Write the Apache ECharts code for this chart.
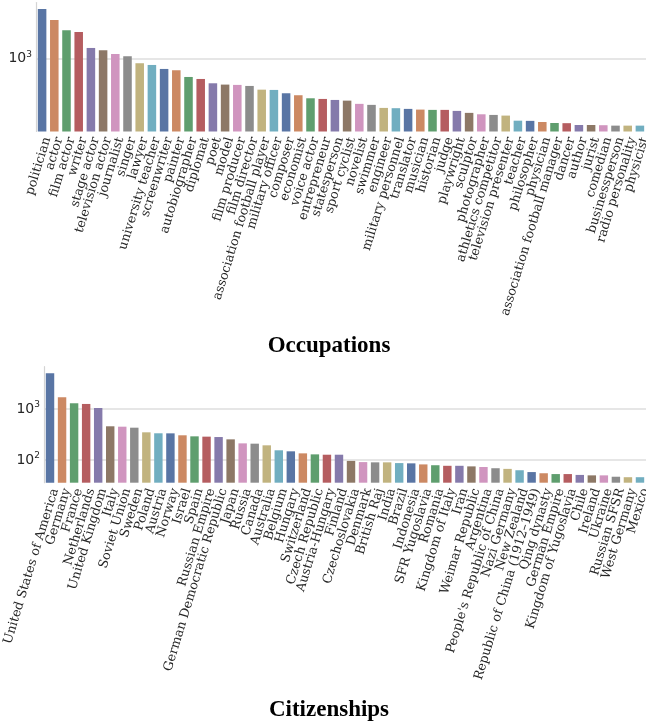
<!DOCTYPE html>
<html>
<head>
<meta charset="utf-8">
<script src="https://cdn.jsdelivr.net/npm/echarts@6/dist/echarts.min.js"></script>
<style>
  html, body { margin: 0; padding: 0; background: #fff; }
  #chart { width: 646px; height: 725px; }
</style>
</head>
<body>
<div id="chart"></div>
<script>
var occupations = ['politician', 'actor', 'film actor', 'writer', 'stage actor', 'television actor',
  'journalist', 'singer', 'lawyer', 'university teacher', 'screenwriter', 'painter', 'autobiographer',
  'diplomat', 'poet', 'model', 'film producer', 'film director', 'association football player',
  'military officer', 'composer', 'economist', 'voice actor', 'entrepreneur', 'statesperson',
  'sport cyclist', 'novelist', 'swimmer', 'engineer', 'military personnel', 'translator', 'musician',
  'historian', 'judge', 'playwright', 'sculptor', 'photographer', 'athletics competitor',
  'television presenter', 'teacher', 'philosopher', 'physician', 'association football manager',
  'dancer', 'author', 'jurist', 'comedian', 'businessperson', 'radio personality', 'physicist'];
var occupationCounts = [3281, 2518, 1964, 1885, 1282, 1213, 1109, 1050, 887, 851,
  773, 749, 637, 607, 547, 530, 526, 513, 469, 466,
  430, 410, 381, 375, 366, 360, 333, 325, 302, 300,
  295, 290, 288, 288, 281, 268, 259, 255, 251, 222,
  221, 215, 210, 209, 200, 200, 199, 197, 197, 197];

var citizenships = ['United States of America', 'Germany', 'France', 'Netherlands', 'United Kingdom',
  'Italy', 'Soviet Union', 'Sweden', 'Poland', 'Austria', 'Norway', 'Israel', 'Spain', 'Russian Empire',
  'German Democratic Republic', 'Japan', 'Russia', 'Canada', 'Australia', 'Belgium', 'Hungary',
  'Switzerland', 'Czech Republic', 'Austria-Hungary', 'Finland', 'Czechoslovakia', 'Denmark',
  'British Raj', 'India', 'Brazil', 'Indonesia', 'SFR Yugoslavia', 'Romania', 'Kingdom of Italy', 'Iran',
  'Weimar Republic', 'Argentina', "People's Republic of China", 'Nazi Germany', 'New Zealand',
  'Republic of China (1912–1949)', 'Qing dynasty', 'German Empire', 'Kingdom of Yugoslavia', 'Chile',
  'Ireland', 'Ukraine', 'Russian SFSR', 'West Germany', 'Mexico'];
var citizenshipCounts = [5000, 1695, 1295, 1255, 1047, 458, 450, 430, 349, 334,
  333, 305, 291, 287, 282, 254, 212, 209, 194, 155,
  148, 135, 129, 127, 127, 96, 91, 90, 90, 87,
  86, 82, 79, 77, 77, 75, 73, 69, 67, 63,
  58, 55, 53, 53, 51, 50, 50, 47, 46, 46];

// axis limits (log scale)
var occupationRange = [171, 3837];
var citizenshipRange = [35.9, 6745];

var palette = ['#5975a4', '#cc8963', '#5f9e6e', '#b55d60', '#857aab',
  '#8d7866', '#d095bf', '#8c8c8c', '#c1b37f', '#71aec0'];

function powLabel(v) {
  return '10{sup|' + Math.round(Math.log10(v)) + '}';
}

function xAxisFor(idx, names) {
  return {
    gridIndex: idx,
    type: 'category',
    data: names,
    axisLine: { show: false },
    axisTick: { show: false },
    axisLabel: {
      interval: 0,
      rotate: 73,
      // top-aligned line box nudges each label a little right of its tick
      verticalAlign: 'top',
      lineHeight: 10.5,
      margin: 4.5,
      fontFamily: 'DejaVu Serif',
      fontSize: 12.7,
      color: '#262626'
    }
  };
}

function yAxisFor(idx, range) {
  return {
    gridIndex: idx,
    type: 'log',
    logBase: 10,
    min: range[0],
    max: range[1],
    axisLine: { show: true, lineStyle: { color: '#d4d4d4', width: 1.2 } },
    axisTick: { show: false },
    splitLine: {
      show: true,
      showMinLine: false,
      showMaxLine: false,
      lineStyle: { color: '#dedede', width: 1.5 }
    },
    axisLabel: {
      showMinLabel: false,
      showMaxLabel: false,
      margin: 4,
      formatter: powLabel,
      fontFamily: 'DejaVu Sans',
      fontSize: 14,
      color: '#262626',
      rich: {
        sup: { fontSize: 9, verticalAlign: 'top', padding: [0, 0, 8, 0], fontFamily: 'DejaVu Sans', color: '#262626' }
      }
    }
  };
}

var titleStyle = { fontFamily: 'Liberation Serif', fontWeight: 'bold', fontSize: 23, color: '#000' };

var chartDom = document.getElementById('chart');
var myChart = echarts.init(chartDom, null, { renderer: 'canvas' });
var option = {
  animation: false,
  backgroundColor: '#fff',
  color: palette,
  title: [
    { text: 'Occupations', left: 329, top: 335, textAlign: 'center', padding: 0, textStyle: titleStyle },
    { text: 'Citizenships', left: 329, top: 699, textAlign: 'center', padding: 0, textStyle: titleStyle }
  ],
  grid: [
    { left: 36, right: 0, top: 2.5, height: 129, outerBoundsMode: 'none' },
    { left: 44, right: 0, top: 366.7, height: 116, outerBoundsMode: 'none' }
  ],
  xAxis: [xAxisFor(0, occupations), xAxisFor(1, citizenships)],
  yAxis: [yAxisFor(0, occupationRange), yAxisFor(1, citizenshipRange)],
  series: [
    {
      type: 'bar',
      xAxisIndex: 0,
      yAxisIndex: 0,
      colorBy: 'data',
      barWidth: '70%',
      data: occupationCounts
    },
    {
      type: 'bar',
      xAxisIndex: 1,
      yAxisIndex: 1,
      colorBy: 'data',
      barWidth: '70%',
      data: citizenshipCounts
    }
  ]
};

option && myChart.setOption(option);
window.addEventListener('resize', function () {
  myChart.resize();
});
</script>
</body>
</html>
